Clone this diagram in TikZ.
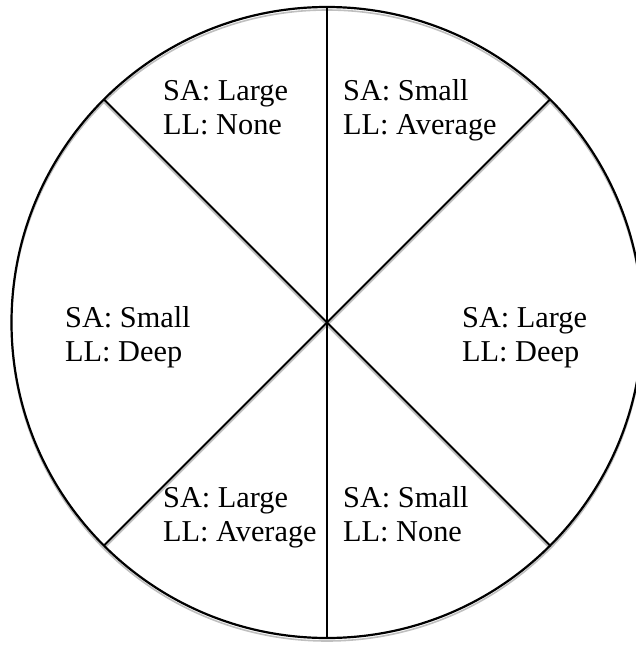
\documentclass[tikz,border=0pt]{standalone}
\usepackage{fontspec}
\setmainfont{Liberation Serif}
\usetikzlibrary{calc}
\begin{document}
\begin{tikzpicture}[x=1pt,y=-1pt,
  ring/.style={line width=2.2pt,black},
  spoke/.style={line width=1.8pt,black},
  shade/.style={line width=1.6pt,black!25},
  lbl/.style={anchor=base west,inner sep=0pt,font=\fontsize{30.3}{34}\selectfont}]
\useasboundingbox (0,0) rectangle (636,645);
\clip (0,0) rectangle (636,645);
\coordinate (c) at (327,322.5);
\coordinate (cs) at (327,325.5);
% shadow
\draw[shade] (cs) circle (315.5);
\draw[shade] ($(cs)+(45:315.5)$) -- ($(cs)+(225:315.5)$);
\draw[shade] ($(cs)+(135:315.5)$) -- ($(cs)+(315:315.5)$);
% main
\draw[ring] (c) circle (315.5);
\coordinate (n) at ($(c)+(90:315.5)$);
\coordinate (s) at ($(c)+(270:315.5)$);
\coordinate (ne) at ($(c)+(45:315.5)$);
\coordinate (sw) at ($(c)+(225:315.5)$);
\coordinate (nw) at ($(c)+(135:315.5)$);
\coordinate (se) at ($(c)+(315:315.5)$);
\draw[spoke] (n) -- (s);
\draw[spoke] (ne) -- (sw);
\draw[spoke] (nw) -- (se);
% labels
\node[lbl] (a1) at (163,100) {SA: Large};
\node[lbl] (a2) at (163,134) {LL: None};
\node[lbl] (b1) at (343,100) {SA: Small};
\node[lbl] (b2) at (343,134) {LL: Average};
\node[lbl] (c1) at (65,327) {SA: Small};
\node[lbl] (c2) at (65,361) {LL: Deep};
\node[lbl] (d1) at (462,327) {SA: Large};
\node[lbl] (d2) at (462,361) {LL: Deep};
\node[lbl] (e1) at (163,507) {SA: Large};
\node[lbl] (e2) at (163,541) {LL: Average};
\node[lbl] (f1) at (343,507) {SA: Small};
\node[lbl] (f2) at (343,541) {LL: None};
\end{tikzpicture}
\end{document}
